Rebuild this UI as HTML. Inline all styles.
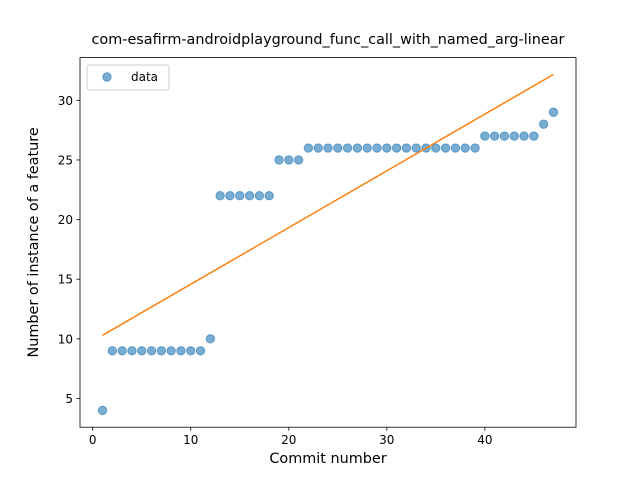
<!DOCTYPE html>
<html><head><meta charset="utf-8"><style>
body{margin:0;background:#fff;}
svg text{font-family:"DejaVu Sans","Liberation Sans",sans-serif;fill:#000;}
</style></head><body>
<svg id="chart" width="640" height="480">
<rect width="640" height="480" fill="#fff"/>
</svg>
<script>
const commits=[1,2,3,4,5,6,7,8,9,10,11,12,13,14,15,16,17,18,19,20,21,22,23,24,25,26,27,28,29,30,31,32,33,34,35,36,37,38,39,40,41,42,43,44,45,46,47];
const counts=[4,9,9,9,9,9,9,9,9,9,9,10,22,22,22,22,22,22,25,25,25,26,26,26,26,26,26,26,26,26,26,26,26,26,26,26,26,26,26,27,27,27,27,27,27,28,29];
const xTicks=[0,10,20,30,40];
const yTicks=[5,10,15,20,25,30];
const titleText="com-esafirm-androidplayground_func_call_with_named_arg-linear";

const svg=document.getElementById('chart');
const NS='http://www.w3.org/2000/svg';
const L=80,R=576,T=57.6,B=427.2;
const n=commits.length;
let mx=0,my=0;for(let i=0;i<n;i++){mx+=commits[i];my+=counts[i];}mx/=n;my/=n;
let sxy=0,sxx=0;for(let i=0;i<n;i++){sxy+=(commits[i]-mx)*(counts[i]-my);sxx+=(commits[i]-mx)**2;}
const slope=sxy/sxx,icpt=my-slope*mx;
const xmin0=Math.min(...commits),xmax0=Math.max(...commits);
const fit0=icpt+slope*xmin0,fit1=icpt+slope*xmax0;
const ylo=Math.min(...counts,fit0,fit1),yhi=Math.max(...counts,fit0,fit1);
const xpad=(xmax0-xmin0)*0.05,ypad=(yhi-ylo)*0.05;
const X0=xmin0-xpad,X1=xmax0+xpad,Y0=ylo-ypad,Y1=yhi+ypad;
const sx=v=>L+(v-X0)/(X1-X0)*(R-L);
const sy=v=>B-(v-Y0)/(Y1-Y0)*(B-T);
function el(tag,attrs,text){const e=document.createElementNS(NS,tag);for(const k in attrs)e.setAttribute(k,attrs[k]);if(text!==undefined)e.textContent=text;svg.appendChild(e);return e;}

let e;
e=el('text',{x:(L+R)/2,y:44,'text-anchor':'middle','font-size':'14.4'},titleText);



for(const t of xTicks){
 e=el('line',{x1:sx(t),x2:sx(t),y1:B,y2:B+3.5,stroke:'#000','stroke-width':0.8});
 
 
 e=el('text',{x:sx(t),y:B+17,'text-anchor':'middle','font-size':'12'},String(t));
 
 
}
for(const t of yTicks){
 e=el('line',{x1:L-3.5,x2:L,y1:sy(t),y2:sy(t),stroke:'#000','stroke-width':0.8});
 
 
 e=el('text',{x:L-7,y:sy(t)+4.5,'text-anchor':'end','font-size':'12'},String(t));
 
 
}
e=el('text',{x:(L+R)/2,y:463,'text-anchor':'middle','font-size':'14.4'},'Commit number');


e=el('text',{x:0,y:0,'text-anchor':'middle','font-size':'14.4',transform:`translate(38,${(T+B)/2}) rotate(-90)`},'Number of instance of a feature');



for(let i=0;i<n;i++){
 e=el('circle',{cx:sx(commits[i]),cy:sy(counts[i]),r:4.2,fill:'#1f77b4','fill-opacity':0.6,stroke:'#1f77b4','stroke-opacity':0.6});
 
 
}
e=el('line',{x1:sx(xmin0),y1:sy(fit0),x2:sx(xmax0),y2:sy(fit1),stroke:'#ff7f0e','stroke-width':1.5});



e=el('rect',{x:L,y:T,width:R-L,height:B-T,fill:'none',stroke:'#000','stroke-width':0.8});



e=el('rect',{x:87,y:65,width:82,height:25,rx:2,fill:'#fff','fill-opacity':0.8,stroke:'#ccc','stroke-width':1});


e=el('circle',{cx:107,cy:77,r:4.2,fill:'#1f77b4','fill-opacity':0.6,stroke:'#1f77b4','stroke-opacity':0.6});


e=el('text',{x:131,y:81,'font-size':'12'},'data');


</script>
</body></html>
